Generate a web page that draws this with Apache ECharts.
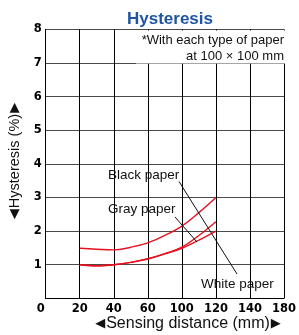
<!DOCTYPE html>
<html>
<head>
<meta charset="utf-8">
<style>
  html, body { margin: 0; padding: 0; background: #fff; }
  #chart { width: 299px; height: 335px; }
</style>
<script src="https://cdn.jsdelivr.net/npm/echarts@6/dist/echarts.min.js"></script>
</head>
<body>
<div id="chart"></div>
<script>
// tick labels as printed under the x axis (evenly spaced on the chart)
const xTickLabels = [0, 20, 40, 60, 100, 120, 140, 180];
const yTicks = [0, 1, 2, 3, 4, 5, 6, 7, 8];

// sensing distance (mm)
const distances = [20, 30, 40, 50, 60, 80, 100, 110, 120];
// hysteresis (%)
const blackPaper = [1.49, 1.46, 1.44, 1.52, 1.65, 1.87, 2.15, 2.55, 3.0];
const grayPaper = [1.0, 0.97, 1.0, 1.07, 1.18, 1.33, 1.52, 1.87, 2.28];
const whitePaper = [1.0, 0.97, 1.0, 1.07, 1.17, 1.32, 1.49, 1.73, 2.0];

const RED = '#e8101e';
const FONT = '"Liberation Sans", Arial, sans-serif';
const TICK_FONT = '"DejaVu Sans", sans-serif';

// position of a distance on the evenly spaced tick scale
function toPos(d) {
  for (let i = 0; i < xTickLabels.length - 1; i++) {
    const a = xTickLabels[i];
    const b = xTickLabels[i + 1];
    if (d >= a && d <= b) return i + (d - a) / (b - a);
  }
  return xTickLabels.length - 1;
}

function makeSeries(name, values) {
  return {
    name: name,
    type: 'line',
    smooth: 0.4,
    showSymbol: false,
    lineStyle: { color: RED, width: 1.4 },
    data: distances.map((d, i) => [toPos(d), values[i]]),
  };
}

const arrowRich = {
  l: { fontSize: 13, fontFamily: TICK_FONT, fill: '#111', padding: [0, 1, 0, 0] },
  r: { fontSize: 13, fontFamily: TICK_FONT, fill: '#111', padding: [0, 0, 0, 1] },
};

const chart = echarts.init(document.getElementById('chart'), null, { renderer: 'canvas' });

chart.setOption({
  animation: false,
  backgroundColor: '#fff',
  title: {
    text: 'Hysteresis',
    left: 165,
    top: 6,
    textAlign: 'center',
    textStyle: { color: '#1f55a5', fontSize: 17, fontWeight: 'bold', fontFamily: FONT },
  },
  grid: { left: 45.7, right: 9, top: 29.5, bottom: 36.7 },
  xAxis: {
    type: 'value',
    min: 0,
    max: xTickLabels.length - 1,
    interval: 1,
    axisLine: { show: true, lineStyle: { color: '#000', width: 1 } },
    axisTick: { show: false },
    splitLine: { show: true, lineStyle: { color: '#000', width: 1 } },
    axisLabel: {
      margin: 5,
      color: '#000',
      fontSize: 11.5,
      fontWeight: 'bold',
      fontFamily: TICK_FONT,
      formatter: (v) => (v === 0 ? '{z|0}' : String(xTickLabels[v])),
      rich: {
        z: { padding: [0, 10, 0, 0], fontSize: 11.5, fontWeight: 'bold', fontFamily: TICK_FONT, color: '#000' },
      },
    },
  },
  yAxis: {
    type: 'value',
    min: yTicks[0],
    max: yTicks[yTicks.length - 1],
    interval: 1,
    axisLine: { show: true, lineStyle: { color: '#000', width: 1 } },
    axisTick: { show: false },
    splitLine: { show: true, lineStyle: { color: '#4a4a4a', width: 1.2 } },
    axisLabel: {
      margin: 4,
      color: '#000',
      fontSize: 11.5,
      fontWeight: 'bold',
      fontFamily: TICK_FONT,
      showMinLabel: false,
    },
  },
  series: [
    makeSeries('Black paper', blackPaper),
    makeSeries('Gray paper', grayPaper),
    makeSeries('White paper', whitePaper),
  ],
  graphic: [
    // note box over the upper right of the grid
    {
      type: 'rect',
      z: 100,
      shape: { x: 136, y: 30.5, width: 156, height: 33 },
      style: { fill: '#fff' },
    },
    {
      type: 'text',
      z: 101,
      x: 284,
      y: 32,
      style: {
        text: '*With each type of paper\nat 100 × 100 mm',
        align: 'right',
        verticalAlign: 'top',
        lineHeight: 16.5,
        font: '13px ' + FONT,
        fill: '#111',
      },
    },
    {
      type: 'text',
      z: 101,
      x: 108,
      y: 175,
      style: { text: 'Black paper', verticalAlign: 'middle', font: '13.5px ' + FONT, fill: '#111' },
    },
    {
      type: 'text',
      z: 101,
      x: 108,
      y: 209,
      style: { text: 'Gray paper', verticalAlign: 'middle', font: '13.5px ' + FONT, fill: '#111' },
    },
    {
      type: 'text',
      z: 101,
      x: 201,
      y: 284,
      style: { text: 'White paper', verticalAlign: 'middle', font: '13.5px ' + FONT, fill: '#111' },
    },
    // leader lines
    {
      type: 'line',
      z: 99,
      shape: { x1: 179, y1: 181.5, x2: 237, y2: 274 },
      style: { stroke: '#111', lineWidth: 1 },
    },
    {
      type: 'line',
      z: 99,
      shape: { x1: 175, y1: 217, x2: 197, y2: 242 },
      style: { stroke: '#111', lineWidth: 1 },
    },
    // axis names
    {
      type: 'text',
      z: 101,
      x: 188,
      y: 324,
      style: {
        text: '{l|◀}Sensing distance (mm){r|▶}',
        align: 'center',
        verticalAlign: 'middle',
        font: '16px ' + FONT,
        fill: '#111',
        rich: arrowRich,
      },
    },
    {
      type: 'text',
      z: 101,
      x: 15,
      y: 161,
      rotation: Math.PI / 2,
      style: {
        text: '{l|◀}Hysteresis (%){r|▶}',
        align: 'center',
        verticalAlign: 'middle',
        font: '14.5px ' + FONT,
        fill: '#111',
        rich: arrowRich,
      },
    },
  ],
});
</script>
</body>
</html>
